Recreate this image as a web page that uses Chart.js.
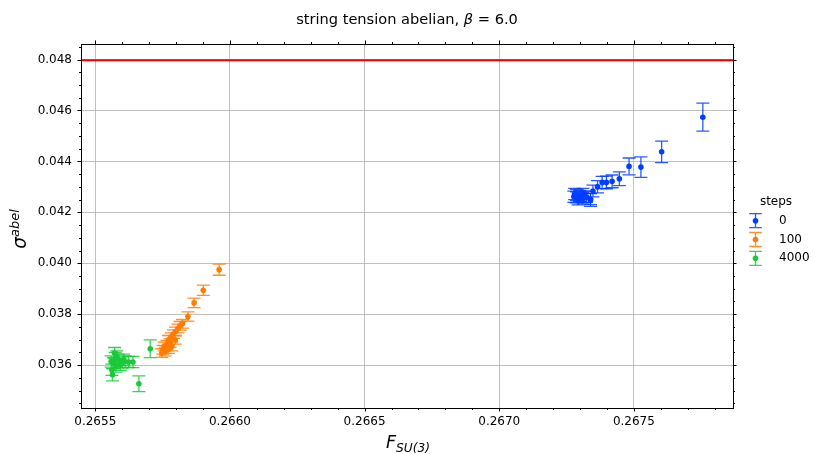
<!DOCTYPE html>
<html>
<head>
<meta charset="utf-8">
<script src="https://cdn.jsdelivr.net/npm/chart.js@4/dist/chart.umd.min.js"></script>
<style>
  html, body { margin: 0; padding: 0; background: #fff; }
  #wrap { width: 813px; height: 454px; }
</style>
</head>
<body>
<div id="wrap"><canvas id="myChart" width="813" height="454"></canvas></div>
<script>
// data
const seriesLabels = ["0", "100", "4000"];
const seriesColors = ["#023eff", "#ff7c00", "#1ac938"];

const x0 = [0.267756, 0.267603, 0.267526, 0.267482, 0.267446, 0.267419, 0.267398, 0.267382, 0.267365, 0.267348,
  0.267339, 0.267324, 0.267311, 0.267299, 0.267287, 0.267277, 0.267280, 0.267293, 0.267318, 0.267339, 0.267311, 0.267287];
const y0 = [0.045737, 0.044376, 0.043776, 0.043804, 0.043318, 0.043216, 0.043176, 0.043176, 0.043004, 0.042835,
  0.042482, 0.042612, 0.042718, 0.042639, 0.042588, 0.042612, 0.042718, 0.042510, 0.042612, 0.042522, 0.042549, 0.042678];
const e0 = [0.00055, 0.00042, 0.00040, 0.00033, 0.00027, 0.00025, 0.00025, 0.00024, 0.00024, 0.00023,
  0.00025, 0.00022, 0.00022, 0.00022, 0.00022, 0.00022, 0.00022, 0.00022, 0.00022, 0.00022, 0.00022, 0.00022];

const x100 = [0.265960, 0.265901, 0.265867, 0.265844, 0.265824, 0.265815, 0.265807, 0.265798, 0.265790, 0.265782,
  0.265772, 0.265766, 0.265756, 0.265751, 0.265760, 0.265778, 0.265784, 0.265747, 0.265772, 0.265797];
const y100 = [0.039749, 0.038941, 0.038443, 0.037906, 0.037620, 0.037541, 0.037435, 0.037318, 0.037216, 0.037098,
  0.036992, 0.036796, 0.036729, 0.036600, 0.036533, 0.036863, 0.036729, 0.036471, 0.036627, 0.036992];
const e100 = [0.00022, 0.00020, 0.00019, 0.00018, 0.00017, 0.00017, 0.00017, 0.00017, 0.00017, 0.00017,
  0.00017, 0.00017, 0.00017, 0.00017, 0.00017, 0.00017, 0.00017, 0.00017, 0.00017, 0.00017];

const x4000 = [0.265704, 0.265662, 0.265640, 0.265624, 0.265611, 0.265599, 0.265586, 0.265574, 0.265568, 0.265562,
  0.265559, 0.265580, 0.265572, 0.265577, 0.265564, 0.265593, 0.265605];
const y4000 = [0.036639, 0.035267, 0.036118, 0.036118, 0.036141, 0.036102, 0.036208, 0.036275, 0.036078, 0.035816,
  0.036141, 0.036337, 0.036471, 0.035945, 0.035620, 0.036012, 0.036208];
const e4000 = [0.00035, 0.00031, 0.00022, 0.00022, 0.00022, 0.00022, 0.00022, 0.00022, 0.00022, 0.00022,
  0.00022, 0.00022, 0.00022, 0.00022, 0.00024, 0.00022, 0.00022];

const refLine = 0.04797;

const xMin = 0.265447, xMax = 0.267868;
const yMin = 0.034314, yMax = 0.048612;
const xTicks = [0.2655, 0.2660, 0.2665, 0.2670, 0.2675];
const yTicks = [0.036, 0.038, 0.040, 0.042, 0.044, 0.046, 0.048];
const xMinorStep = 0.0001, yMinorStep = 0.0005;

const FONT = "'DejaVu Sans', sans-serif";

function toPoints(xs, ys, es) {
  return xs.map((x, i) => ({ x: x, y: ys[i], err: es[i] }));
}

const seriesData = [toPoints(x0, y0, e0), toPoints(x100, y100, e100), toPoints(x4000, y4000, e4000)];

const datasets = seriesData.map((pts, i) => ({
  type: "scatter",
  label: seriesLabels[i],
  data: pts,
  backgroundColor: seriesColors[i],
  borderColor: seriesColors[i],
  pointRadius: 2.8,
  pointBorderWidth: 0,
  isErr: true,
}));
datasets.unshift({
  type: "line",
  label: "ref",
  data: [{ x: xMin, y: refLine }, { x: xMax, y: refLine }],
  borderColor: "#f00000",
  borderWidth: 2,
  pointRadius: 0,
});

function alpha(hex, a) {
  const n = parseInt(hex.slice(1), 16);
  return `rgba(${n >> 16},${(n >> 8) & 255},${n & 255},${a})`;
}

function drawErrBar(ctx, x, yTop, yBot, cap, color) {
  ctx.strokeStyle = color;
  ctx.lineWidth = 1.3;
  ctx.beginPath();
  ctx.moveTo(x, yTop); ctx.lineTo(x, yBot);
  ctx.moveTo(x - cap, yTop); ctx.lineTo(x + cap, yTop);
  ctx.moveTo(x - cap, yBot); ctx.lineTo(x + cap, yBot);
  ctx.stroke();
}

// draw text pieces: [text, size, italic, dy]
function drawRich(ctx, pieces, x, y, align) {
  let total = 0;
  pieces.forEach(p => {
    ctx.font = `${p[2] ? "italic " : ""}${p[1]}px ${FONT}`;
    p.w = ctx.measureText(p[0]).width;
    total += p.w;
  });
  let cx = align === "center" ? x - total / 2 : x;
  ctx.textAlign = "left";
  ctx.textBaseline = "alphabetic";
  pieces.forEach(p => {
    ctx.font = `${p[2] ? "italic " : ""}${p[1]}px ${FONT}`;
    ctx.fillText(p[0], cx, y + (p[3] || 0));
    cx += p.w;
  });
}

const decorPlugin = {
  id: "decor",
  beforeDatasetDraw(chart, args) {
    const ds = chart.data.datasets[args.index];
    if (!ds.isErr) return;
    const xs = chart.scales.x, ys = chart.scales.y, ctx = chart.ctx;
    ctx.save();
    ds.data.forEach(p => {
      const px = xs.getPixelForValue(p.x);
      drawErrBar(ctx, px, ys.getPixelForValue(p.y + p.err), ys.getPixelForValue(p.y - p.err), 6.5, alpha(ds.borderColor, 0.85));
    });
    ctx.restore();
  },
  afterDraw(chart) {
    const ctx = chart.ctx, a = chart.chartArea;
    const xs = chart.scales.x, ys = chart.scales.y;
    ctx.save();
    // frame
    ctx.strokeStyle = "#000";
    ctx.lineWidth = 1;
    ctx.strokeRect(Math.round(a.left) + 0.5, Math.round(a.top) + 0.5, Math.round(a.right - a.left), Math.round(a.bottom - a.top));
    // ticks on all sides
    ctx.beginPath();
    for (let v = 0.2654; v <= xMax; v += xMinorStep) {
      if (v < xMin) continue;
      const px = Math.round(xs.getPixelForValue(v)) + 0.5;
      const major = xTicks.some(t => Math.abs(t - v) < 1e-8);
      const len = major ? 3.5 : 2;
      ctx.moveTo(px, a.bottom); ctx.lineTo(px, a.bottom + len);
      ctx.moveTo(px, a.top); ctx.lineTo(px, a.top - len);
    }
    for (let v = 0.0345; v <= yMax; v += yMinorStep) {
      if (v < yMin) continue;
      const py = Math.round(ys.getPixelForValue(v)) + 0.5;
      const major = yTicks.some(t => Math.abs(t - v) < 1e-8);
      const len = major ? 3.5 : 2;
      ctx.moveTo(a.left, py); ctx.lineTo(a.left - len, py);
      ctx.moveTo(a.right, py); ctx.lineTo(a.right + len, py);
    }
    ctx.stroke();

    ctx.fillStyle = "#000";
    // title
    drawRich(ctx, [["string tension abelian, ", 14.6, false], ["\u03b2", 14.6, true], [" = 6.0", 14.6, false]], 407, 24, "center");
    // x label
    drawRich(ctx, [["F", 17.5, true], ["SU(3)", 12.2, true, 3.5]], 408, 448, "center");
    // y label
    ctx.save();
    ctx.translate(26, 229);
    ctx.rotate(-Math.PI / 2);
    drawRich(ctx, [["\u03c3", 18.5, true], ["abel", 13, true, -7.5]], 0, 0, "center");
    ctx.restore();

    // legend
    ctx.font = `12px ${FONT}`;
    ctx.textAlign = "center";
    ctx.textBaseline = "middle";
    ctx.fillText("steps", 776, 202);
    seriesLabels.forEach((lab, i) => {
      const cy = 220.7 + i * 18.8;
      const col = seriesColors[i];
      drawErrBar(ctx, 755.5, cy - 7, cy + 7, 6.3, alpha(col, 0.85));
      ctx.fillStyle = col;
      ctx.beginPath();
      ctx.arc(755.5, cy, 2.8, 0, Math.PI * 2);
      ctx.fill();
      ctx.fillStyle = "#000";
      ctx.textAlign = "left";
      ctx.fillText(lab, 779, cy);
    });
    ctx.restore();
  },
};

new Chart(document.getElementById("myChart"), {
  data: { datasets: datasets },
  options: {
    responsive: false,
    animation: false,
    layout: { padding: { left: 36, right: 80, top: 44, bottom: 16 } },
    plugins: { legend: { display: false }, tooltip: { enabled: false }, title: { display: false } },
    scales: {
      x: {
        type: "linear",
        min: xMin,
        max: xMax,
        afterBuildTicks: s => { s.ticks = xTicks.map(v => ({ value: v })); },
        afterFit: s => { s.height = 30; },
        grid: { color: "#b0b0b0", lineWidth: 0.8, drawTicks: false },
        border: { display: false },
        ticks: { padding: 7, color: "#000", font: { family: FONT, size: 12 }, callback: v => v.toFixed(4), maxRotation: 0 },
      },
      y: {
        type: "linear",
        min: yMin,
        max: yMax,
        afterBuildTicks: s => { s.ticks = yTicks.map(v => ({ value: v })); },
        afterFit: s => { s.width = 45; },
        grid: { color: "#b0b0b0", lineWidth: 0.8, drawTicks: false },
        border: { display: false },
        ticks: { padding: 9, color: "#000", font: { family: FONT, size: 12 }, callback: v => v.toFixed(3) },
      },
    },
  },
  plugins: [decorPlugin],
});
</script>
</body>
</html>
